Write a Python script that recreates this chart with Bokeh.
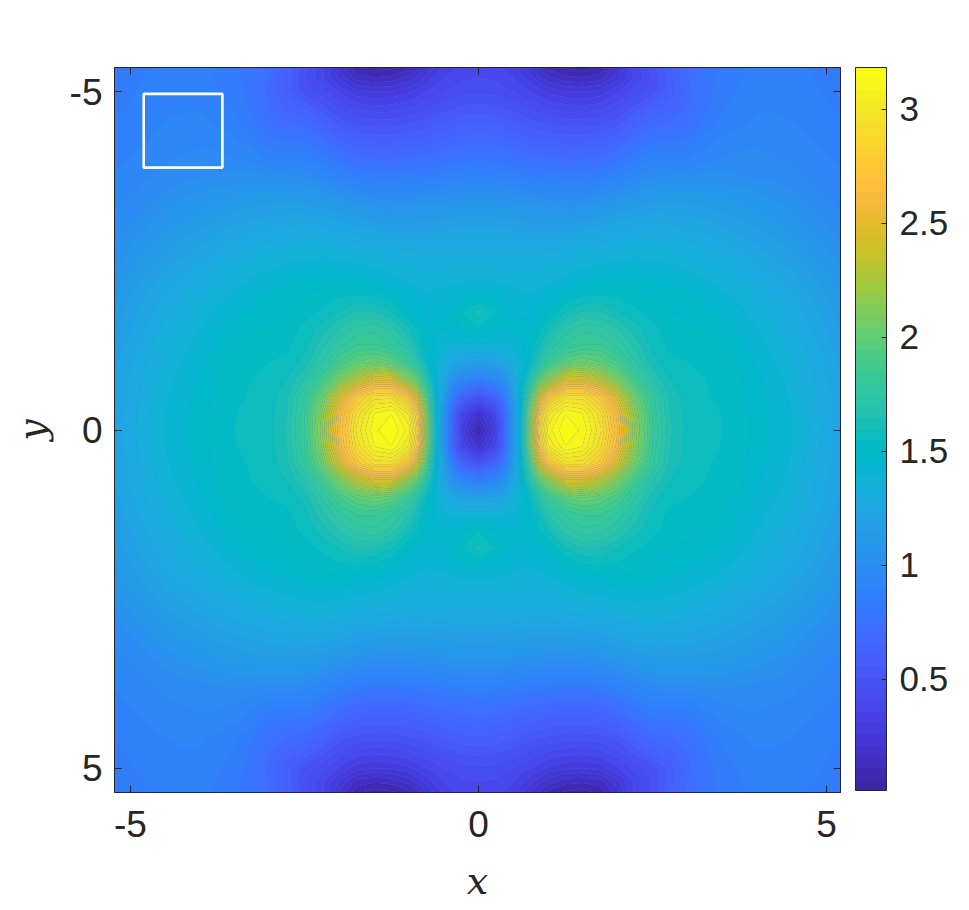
import numpy as np
from bokeh.embed import file_html
from bokeh.resources import INLINE
from bokeh.plotting import figure
from bokeh.models import (LinearColorMapper, ColorBar, FixedTicker, LinearAxis, Range1d,
                          NumeralTickFormatter)

x_nodes = [0,.25,.375,.5,.625,.75,.875,1,1.25,1.5,1.75,2,2.25,2.5,2.75,3,3.25,3.5,3.75,4,4.25,4.5,4.75,5,5.25]
y_nodes = [0,.25,.5,.75,1,1.25,1.5,1.75,2,2.25,2.5,2.75,3,3.25,3.5,3.75,4,4.25,4.5,4.75,5,5.2,5.37]
row_y000 = [.06,.3,.6,1.1,1.65,2.25,2.78,3.06,3.18,3.12,2.95,2.64,2.18,1.85,1.66,1.585,1.565,1.55,1.525,1.48,1.44,1.4,1.35,1.28,1.22]
row_y025 = [.18,.36,.63,1.1,1.62,2.2,2.7,2.97,3.13,3.08,2.9,2.6,2.15,1.84,1.65,1.58,1.56,1.548,1.522,1.48,1.44,1.4,1.34,1.28,1.22]
row_y050 = [.48,.62,.82,1.18,1.55,2.0,2.42,2.7,2.9,2.9,2.75,2.45,2.05,1.8,1.64,1.57,1.555,1.54,1.515,1.47,1.43,1.39,1.33,1.27,1.21]
row_y075 = [.85,.95,1.05,1.27,1.48,1.75,2.0,2.15,2.45,2.45,2.32,2.1,1.88,1.7,1.6,1.56,1.55,1.535,1.51,1.46,1.42,1.38,1.32,1.26,1.2]
row_y100 = [1.18,1.22,1.25,1.33,1.42,1.55,1.72,1.85,2.0,2.05,2.0,1.9,1.75,1.62,1.56,1.55,1.54,1.52,1.49,1.44,1.4,1.36,1.31,1.25,1.18]
row_y125 = [1.38,1.39,1.39,1.41,1.44,1.5,1.6,1.7,1.8,1.85,1.85,1.78,1.68,1.58,1.54,1.53,1.52,1.5,1.46,1.42,1.38,1.34,1.29,1.23,1.16]
row_y150 = [1.55,1.5,1.47,1.45,1.46,1.48,1.54,1.6,1.72,1.78,1.76,1.7,1.62,1.56,1.53,1.51,1.5,1.48,1.44,1.4,1.36,1.32,1.26,1.2,1.14]
row_y175 = [1.62,1.55,1.5,1.46,1.44,1.44,1.47,1.5,1.6,1.65,1.65,1.6,1.56,1.53,1.5,1.49,1.48,1.45,1.41,1.37,1.33,1.29,1.24,1.18,1.12]
row_y200 = [1.48,1.45,1.43,1.42,1.41,1.4,1.42,1.44,1.5,1.54,1.55,1.54,1.52,1.5,1.48,1.46,1.44,1.41,1.38,1.34,1.3,1.26,1.21,1.15,1.09]
row_y225 = [1.38,1.38,1.37,1.37,1.37,1.37,1.37,1.38,1.41,1.44,1.46,1.47,1.47,1.46,1.44,1.42,1.4,1.37,1.33,1.3,1.26,1.22,1.17,1.12,1.06]
row_y250 = [1.33,1.33,1.33,1.33,1.33,1.33,1.33,1.34,1.35,1.37,1.38,1.4,1.41,1.4,1.39,1.37,1.35,1.32,1.29,1.25,1.21,1.18,1.13,1.08,1.03]
row_y275 = [1.28,1.28,1.28,1.28,1.28,1.28,1.28,1.28,1.29,1.3,1.31,1.33,1.34,1.34,1.33,1.31,1.3,1.27,1.24,1.2,1.17,1.13,1.09,1.05,1.0]
row_y300 = [1.2,1.2,1.2,1.19,1.19,1.18,1.18,1.18,1.18,1.19,1.21,1.24,1.26,1.27,1.26,1.25,1.23,1.21,1.18,1.15,1.12,1.09,1.05,1.01,.97]
row_y325 = [1.12,1.12,1.11,1.11,1.1,1.09,1.09,1.08,1.08,1.09,1.11,1.14,1.17,1.19,1.19,1.18,1.17,1.15,1.13,1.1,1.08,1.05,1.01,.98,.95]
row_y350 = [1.02,1.02,1.01,1.0,.99,.98,.98,.97,.97,.97,.99,1.03,1.07,1.1,1.11,1.11,1.1,1.09,1.08,1.06,1.04,1.01,.98,.95,.93]
row_y375 = [.91,.9,.89,.88,.87,.86,.85,.85,.84,.84,.86,.9,.95,1.0,1.02,1.02,1.02,1.02,1.01,1.0,.99,.97,.95,.93,.91]
row_y400 = [.79,.78,.77,.76,.75,.74,.73,.72,.71,.71,.73,.78,.84,.9,.9,.9,.94,.96,.97,.97,.96,.95,.93,.91,.89]
row_y425 = [.7,.69,.68,.66,.65,.63,.62,.61,.6,.6,.62,.66,.74,.81,.81,.82,.88,.92,.94,.95,.94,.93,.91,.89,.88]
row_y450 = [.62,.61,.59,.58,.56,.54,.53,.52,.5,.5,.51,.55,.63,.7,.72,.75,.82,.87,.9,.92,.92,.91,.89,.88,.86]
row_y475 = [.53,.52,.5,.49,.47,.45,.43,.41,.39,.38,.4,.45,.53,.6,.64,.71,.79,.85,.88,.9,.9,.89,.88,.86,.84]
row_y500 = [.45,.44,.42,.41,.38,.36,.33,.3,.27,.26,.28,.35,.43,.48,.58,.68,.78,.83,.86,.89,.89,.88,.87,.85,.83]
row_y520 = [.41,.4,.38,.36,.32,.28,.23,.18,.13,.12,.14,.25,.37,.46,.58,.7,.78,.82,.85,.88,.88,.87,.86,.84,.82]
row_y537 = [.38,.37,.35,.32,.27,.2,.14,.09,.05,.03,.07,.2,.38,.48,.6,.72,.78,.82,.85,.87,.87,.86,.85,.83,.81]

rows = [row_y000,row_y025,row_y050,row_y075,row_y100,row_y125,row_y150,row_y175,row_y200,row_y225,row_y250,
        row_y275,row_y300,row_y325,row_y350,row_y375,row_y400,row_y425,row_y450,row_y475,row_y500,row_y520,row_y537]

box_x = [-4.81, -3.68]
box_y = [-4.97, -3.88]
axis_ticks = [-5, 0, 5]
bar_ticks = [0.5, 1, 1.5, 2, 2.5, 3]
value_low, value_high = 0.013, 3.184

parula = """0.2422 0.1504 0.6603;0.2504 0.1650 0.7076;0.2578 0.1818 0.7511;0.2647 0.1978 0.7952;0.2706 0.2147 0.8364;
0.2751 0.2342 0.8710;0.2783 0.2559 0.8991;0.2803 0.2782 0.9221;0.2813 0.3006 0.9414;0.2810 0.3228 0.9579;0.2795 0.3447 0.9717;
0.2760 0.3667 0.9829;0.2699 0.3892 0.9906;0.2602 0.4123 0.9952;0.2440 0.4358 0.9988;0.2206 0.4603 0.9973;0.1963 0.4847 0.9892;
0.1834 0.5074 0.9798;0.1786 0.5289 0.9682;0.1764 0.5499 0.9520;0.1687 0.5703 0.9359;0.1540 0.5902 0.9218;0.1460 0.6091 0.9079;
0.1380 0.6276 0.8973;0.1248 0.6459 0.8883;0.1113 0.6635 0.8763;0.0952 0.6798 0.8598;0.0689 0.6948 0.8394;0.0297 0.7082 0.8163;
0.0036 0.7203 0.7917;0.0067 0.7312 0.7660;0.0433 0.7411 0.7394;0.0964 0.7500 0.7120;0.1408 0.7584 0.6842;0.1717 0.7670 0.6554;
0.1938 0.7758 0.6251;0.2161 0.7843 0.5923;0.2470 0.7918 0.5567;0.2906 0.7973 0.5188;0.3406 0.8008 0.4789;0.3909 0.8029 0.4354;
0.4456 0.8024 0.3909;0.5044 0.7993 0.3480;0.5616 0.7942 0.3045;0.6174 0.7876 0.2612;0.6720 0.7793 0.2227;0.7242 0.7698 0.1910;
0.7738 0.7598 0.1646;0.8203 0.7498 0.1535;0.8634 0.7406 0.1596;0.9035 0.7330 0.1774;0.9393 0.7288 0.2100;0.9728 0.7298 0.2394;
0.9956 0.7434 0.2371;0.9970 0.7659 0.2199;0.9952 0.7861 0.1985;0.9892 0.8136 0.1885;0.9786 0.8386 0.1766;0.9676 0.8639 0.1643;
0.9610 0.8890 0.1537;0.9597 0.9135 0.1423;0.9628 0.9373 0.1265;0.9691 0.9606 0.1064;0.9769 0.9839 0.0805"""
palette = ["#%02x%02x%02x" % tuple(int(round(float(c) * 255)) for c in t.split())
           for t in parula.replace("\n", "").split(";")]

quadrant = np.array(rows)
right = np.hstack([quadrant[:, :0:-1], quadrant])          # mirror about x = 0
field = np.vstack([right[:0:-1, :], right])                # mirror about y = 0
xs = np.array([-v for v in x_nodes[:0:-1]] + x_nodes)
ys = np.array([-v for v in y_nodes[:0:-1]] + y_nodes)

INK = "#262626"
TICK_FONT = "Liberation Sans"
LABEL_FONT = "DejaVu Serif"

p = figure(frame_width=726, frame_height=725, output_backend="svg", toolbar_location=None,
           x_range=Range1d(-5.23, 5.2), y_range=Range1d(5.36, -5.36),
           min_border_left=114, min_border_top=67, min_border_bottom=10, min_border_right=0,
           x_axis_label="x", y_axis_label="y", background_fill_color="#2a8ae8", outline_line_color=INK)
p.grid.visible = False

mapper = LinearColorMapper(palette=palette, low=value_low, high=value_high)
levels = list(np.linspace(value_low, value_high, len(palette) + 1))
p.contour(xs, ys, field, levels, fill_color=palette, line_color=None)
p.quad(left=[box_x[0]], right=[box_x[1]], top=[box_y[0]], bottom=[box_y[1]],
       fill_color=None, line_color="white", line_width=2.6)

labels = {t: str(t) for t in axis_ticks}
for ax in (p.xaxis[0], p.yaxis[0]):
    ax.ticker = FixedTicker(ticks=axis_ticks)
    ax.major_label_overrides = labels
    ax.major_tick_in, ax.major_tick_out = 7, 0
    ax.minor_tick_in = ax.minor_tick_out = 0
    ax.axis_line_color = INK
    ax.major_tick_line_color = INK
    ax.major_label_text_font = TICK_FONT
    ax.major_label_text_font_size = "37px"
    ax.major_label_text_color = INK
    ax.axis_label_text_font = LABEL_FONT
    ax.axis_label_text_font_style = "italic"
    ax.axis_label_text_font_size = "38px"
    ax.axis_label_text_color = INK
p.xaxis[0].major_label_standoff = 18
p.xaxis[0].axis_label_standoff = 19
p.yaxis[0].major_label_standoff = 12
p.yaxis[0].axis_label_standoff = 13
p.yaxis[0].major_label_orientation = "horizontal"

for side in ("above", "right"):
    ax = LinearAxis(ticker=FixedTicker(ticks=axis_ticks), major_tick_in=7, major_tick_out=0,
                    minor_tick_in=0, minor_tick_out=0, axis_line_color=INK, major_tick_line_color=INK,
                    major_label_text_font_size="0px", major_label_standoff=0,
                    major_label_text_color=None)
    p.add_layout(ax, side)

bar = ColorBar(color_mapper=mapper, width=31, height=723, location=(15, 2), margin=0, padding=0,
               ticker=FixedTicker(ticks=bar_ticks), formatter=NumeralTickFormatter(format="0.[0]"),
               major_tick_in=5, major_tick_out=0, major_tick_line_color=INK, bar_line_color=INK,
               major_label_text_font=TICK_FONT, major_label_text_font_size="35px",
               major_label_text_color=INK, label_standoff=13, background_fill_color=None, border_line_color=None)
p.add_layout(bar, "right")

open("out.html", "w").write(file_html(p, INLINE))
